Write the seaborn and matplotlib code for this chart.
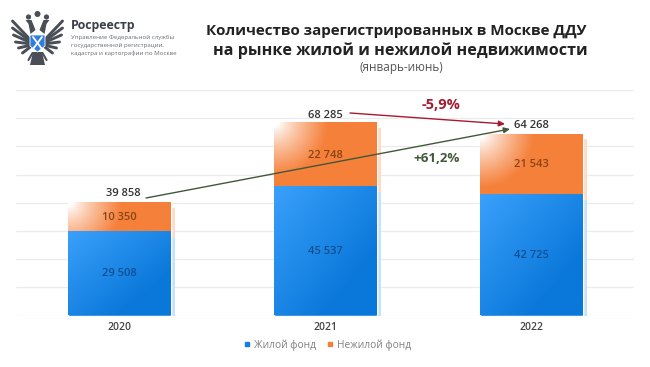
import numpy as np
import pandas as pd
import matplotlib
matplotlib.use("Agg")
import matplotlib.pyplot as plt
import seaborn as sns
from matplotlib.patches import Polygon, Rectangle, Circle
from matplotlib.transforms import ScaledTranslation
from matplotlib.lines import Line2D

years = ["2020", "2021", "2022"]
living = [29508, 45537, 42725]
nonliving = [10350, 22748, 21543]
totals = [39858, 68285, 64268]
series_names = ["Жилой фонд", "Нежилой фонд"]

blue = "#0F7FE3"
orange = "#F5803A"
W, H = 650, 367

sns.set_theme(style="white")
plt.rcParams["font.family"] = ["Open Sans", "DejaVu Sans"]


def fmt(v):
    return f"{v:,}".replace(",", " ")


fig = plt.figure(figsize=(W / 100, H / 100), dpi=100, facecolor="white")
ax = fig.add_axes([16 / W, 1 - 315.5 / H, 618 / W, 225.5 / H])

df = pd.DataFrame({"year": years, "living": living, "total": totals})
# stacked bars: totals behind, living on top
sns.barplot(data=df, x="year", y="total", color=orange, width=0.5, saturation=1, ax=ax, zorder=3)
n_orange = len(ax.patches)
sns.barplot(data=df, x="year", y="living", color=blue, width=0.5, saturation=1, ax=ax, zorder=4)

ax.set_xlim(-0.5, 2.5)
ax.set_ylim(0, 80000)
ax.set_yticks(np.arange(0, 90000, 10000))
ax.set_yticklabels([])
ax.tick_params(axis="both", length=0)
ax.grid(axis="y", color="#EBEBEB", lw=0.9)
ax.set_axisbelow(True)
for s in ax.spines.values():
    s.set_visible(False)
ax.set_xlabel("")
ax.set_ylabel("")
ax.set_xticks(range(3))
ax.set_xticklabels(years, fontsize=7.5, color="#444444", fontweight="semibold")
ax.tick_params(axis="x", pad=5)

# gradients and soft shadows over each bar
shadow_shift = ScaledTranslation(4.5 / 100, -5 / 100, fig.dpi_scale_trans)
ylo = 80000 / 225.5
bars = list(ax.patches)
for i, bar in enumerate(bars):
    j = i if i < n_orange else i - n_orange
    x0, w = bar.get_x(), bar.get_width()
    y1 = bar.get_height()
    is_orange = i < n_orange
    y0 = living[j] if is_orange else 0
    hpx = (y1 - y0) / ylo
    wpx = w * 206
    gx, gy = np.meshgrid(np.linspace(0, wpx, 60), np.linspace(0, hpx, 60))
    rgba = np.zeros((60, 60, 4))
    if is_orange:
        base = np.array(matplotlib.colors.to_rgb(orange))
        d = np.sqrt(gx ** 2 + gy ** 2)
        fade = np.clip((d - 4) / 50, 0, 1) ** 0.8
        rgba[..., :3] = 1 - (1 - base) * fade[..., None]
    else:
        c1 = np.array(matplotlib.colors.to_rgb("#3AA0FB"))
        c2 = np.array(matplotlib.colors.to_rgb("#0A78DA"))
        t = np.clip((gx / wpx + gy / hpx) / 1.5, 0, 1)[..., None]
        rgba[..., :3] = c1 * (1 - t) + c2 * t
    rgba[..., 3] = 1
    ax.imshow(rgba, extent=(x0, x0 + w, y0, y1), origin="upper", aspect="auto",
              zorder=5, interpolation="bilinear")
    shade = "#FCDCC8" if is_orange else "#C4E2FB"
    ax.add_patch(Rectangle((x0, y0), w, y1 - y0, color=shade, lw=0, zorder=2,
                           transform=ax.transData + shadow_shift))

ax.set_xlim(-0.5, 2.5)
ax.set_ylim(0, 80000)

# value labels
total_dx = [0.02, 0, 0]
total_dy = [3400, 2700, 3200]
for i in range(3):
    ax.text(i, living[i] / 2, fmt(living[i]), ha="center", va="center", fontsize=8,
            color="#0F4F8F", fontweight="semibold", zorder=6)
    ax.text(i, living[i] + nonliving[i] / 2, fmt(nonliving[i]), ha="center", va="center",
            fontsize=8, color="#8A4316", fontweight="semibold", zorder=6)
    ax.text(i + total_dx[i], totals[i] + total_dy[i], fmt(totals[i]),
            ha="center", va="center", fontsize=8, color="#333333", fontweight="semibold", zorder=6)

# overlay in pixel coordinates for arrows and logo
ov = fig.add_axes([0, 0, 1, 1], facecolor="none")
ov.set_xlim(0, W)
ov.set_ylim(H, 0)
ov.axis("off")

ov.annotate("", xy=(510, 129), xytext=(146, 198),
            arrowprops=dict(arrowstyle="-|>,head_length=0.3,head_width=0.14", color="#41583A", lw=1, shrinkA=0, shrinkB=0))
ov.annotate("", xy=(505, 124), xytext=(350, 113),
            arrowprops=dict(arrowstyle="-|>,head_length=0.3,head_width=0.14", color="#A51C30", lw=1, shrinkA=0, shrinkB=0))
ov.text(441, 105, "-5,9%", ha="center", va="center", fontsize=10.5, fontweight="bold", color="#A51C30")
ov.text(437, 158, "+61,2%", ha="center", va="center", fontsize=9.6, fontweight="bold", color="#41583A")

# title
ov.text(396, 31, "Количество зарегистрированных в Москве ДДУ", ha="center", va="center",
        fontsize=10.9, fontweight="bold", color="#222222")
ov.text(400, 51, "на рынке жилой и нежилой недвижимости", ha="center", va="center",
        fontsize=11.6, fontweight="bold", color="#222222")
ov.text(401, 68, "(январь-июнь)", ha="center", va="center", fontsize=8.5, color="#555555")

# logo text
ov.text(71, 26, "Росреестр", ha="left", va="center", fontsize=8.9, fontweight="bold", color="#3B4048")
for y, line in zip([37, 45, 53], ["Управление Федеральной службы",
                                  "государственной регистрации,",
                                  "кадастра и картографии по Москве"]):
    ov.text(71, y, line, ha="left", va="center", fontsize=4.4, color="#6A6F76")

# emblem
eagle = "#4A4F57"
for side in (-1, 1):
    cx = 37.5
    for k, (dx, dy) in enumerate([(25, -20), (25, -13), (24, -6), (22, 1), (19, 7), (15, 12)]):
        ov.plot([cx + side * 6, cx + side * dx], [41 + k, 41 + dy], color=eagle, lw=2.1,
                solid_capstyle="round")
    ov.add_patch(Polygon([(cx + side * 2, 30), (cx + side * 6, 20), (cx + side * 12, 20),
                          (cx + side * 9, 24), (cx + side * 7, 34)], color=eagle, lw=0))
    ov.add_patch(Circle((cx + side * 9, 17), 2.6, color=eagle, lw=0))
    ov.plot([cx + side * 5, cx + side * 9], [53, 60], color=eagle, lw=1.5)
ov.add_patch(Circle((37.5, 14), 3.0, color=eagle, lw=0))
ov.add_patch(Polygon([(33, 52), (42, 52), (45, 65), (30, 65)], color=eagle, lw=0))
ov.add_patch(Polygon([(30, 35), (45, 35), (45, 46), (37.5, 52), (30, 46)], color="#2C7FE0", ec="white", lw=0.6, zorder=5))
ov.plot([33, 42], [37, 49], color="white", lw=1.3, zorder=6)
ov.plot([42, 33], [37, 49], color="white", lw=1.3, zorder=6)

# legend
handles = [Line2D([], [], marker="s", ls="", color=blue, ms=3.5),
           Line2D([], [], marker="s", ls="", color=orange, ms=3.5)]
fig.legend(handles, series_names, loc="center", bbox_to_anchor=(327 / W, 1 - 345 / H), ncol=2,
           frameon=False, fontsize=7.3, labelcolor="#808080", handlelength=0.7,
           handletextpad=0.35, columnspacing=1.0)

fig.savefig("out.png", dpi=100, facecolor="white")
